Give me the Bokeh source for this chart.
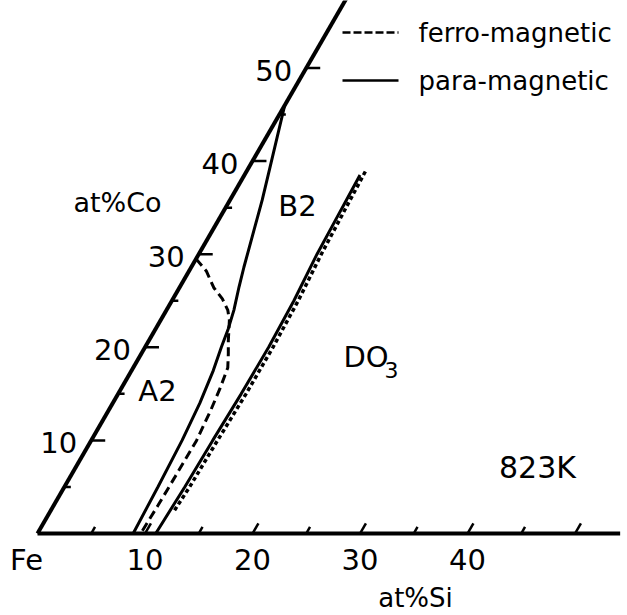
import numpy as np
from bokeh.plotting import figure
from bokeh.models import Range1d
from bokeh.core.properties import value
from bokeh.embed import file_html
from bokeh.resources import INLINE

# ---------------- data (compositions, at%) ----------------
si_ticks = [5, 10, 15, 20, 25, 30, 35, 40, 45, 50]
si_major = [10, 20, 30, 40, 50]
si_labels = ["10", "20", "30", "40"]
si_label_vals = [10, 20, 30, 40]

co_ticks = [5, 10, 15, 20, 25, 30, 35, 40, 45, 50]
co_major = [10, 20, 30, 40, 50]
co_labels = ["10", "20", "30", "40", "50"]
co_label_vals = [10, 20, 30, 40, 50]

# A2/B2 boundary, para-magnetic (solid)
para_a2b2_si = [8.9, 8.7, 8.45, 8.1, 7.6, 7.1, 6.75, 6.27, 5.5, 4.9, 4.0, 3.0, 2.0, 1.0, 0.0]
para_a2b2_co = [0.0, 5.0, 10.0, 14.0, 17.5, 20.0, 22.0, 24.0, 26.5, 28.6, 32.0, 35.8, 39.2, 42.6, 46.0]

# A2/B2 boundary, ferro-magnetic (dashed)
ferro_a2b2_si = [0.0, 1.6, 3.2, 4.6, 5.7, 6.4, 6.9, 7.4, 8.1, 8.8, 9.2, 9.5, 9.8, 9.75, 9.7, 9.6]
ferro_a2b2_co = [29.5, 28.2, 26.4, 25.2, 24.0, 22.9, 21.8, 20.7, 19.3, 17.8, 15.5, 13.2, 10.0, 6.0, 3.0, 0.0]

# B2/DO3 boundary, para-magnetic (solid)
para_b2do3_si = [11.0, 11.2, 11.3, 11.45, 11.5, 11.35, 11.0, 10.85, 10.75]
para_b2do3_co = [0.0, 5.0, 10.0, 15.0, 20.0, 25.0, 30.0, 35.0, 38.5]

# B2/DO3 boundary, ferro-magnetic (dashed)
ferro_b2do3_si = [11.5, 11.65, 11.75, 11.9, 11.9, 11.75, 11.4, 11.2, 11.05]
ferro_b2do3_co = [2.5, 5.0, 10.0, 15.0, 20.0, 25.0, 30.0, 35.0, 39.0]

# ---------------- geometry ----------------
S = 10.75            # px per at%
OX, OY = 37, 533     # Fe corner in px
W, H = 627, 615
R3 = np.sqrt(3) / 2


def X(si, co):
    return np.asarray(si, float) + 0.5 * np.asarray(co, float)


def Y(co):
    return np.asarray(co, float) * R3


def px(xp):
    return (xp - OX) / S


def py(yp):
    return (OY - yp) / S


p = figure(width=W, height=H, x_range=Range1d(px(0), px(W)), y_range=Range1d(py(H), py(0)),
           x_axis_type=None, y_axis_type=None, min_border=0, toolbar_location=None,
           output_backend="svg", outline_line_color=None, background_fill_color="white",
           border_fill_color="white")
p.grid.visible = False

BLACK = "#000000"
FONT = value("DejaVu Sans")

# axes (triangle edges)
p.line(X([0, 54.2], [0, 0]), Y([0, 0]), line_color=BLACK, line_width=4)
p.line(X([0, 0], [0, 58]), Y([0, 58]), line_color=BLACK, line_width=4)

# Si ticks (slanted, along the Co direction)
for t in si_ticks:
    L = 1.1 if t in si_major else 0.7
    p.line(X([t, t], [0, L]), Y([0, L]), line_color=BLACK, line_width=2.5)

# Co ticks (horizontal, along the Si direction)
for t in co_ticks:
    L = 1.3 if t in co_major else 0.6
    p.line(X([0, L], [t, t]), Y([t, t]), line_color=BLACK, line_width=2.5)

# phase boundaries
p.line(X(para_a2b2_si, para_a2b2_co), Y(para_a2b2_co), line_color=BLACK, line_width=3)
p.line(X(ferro_a2b2_si, ferro_a2b2_co), Y(ferro_a2b2_co), line_color=BLACK, line_width=3,
       line_dash="9 5")
p.line(X(para_b2do3_si, para_b2do3_co), Y(para_b2do3_co), line_color=BLACK, line_width=3)
p.line(X(ferro_b2do3_si, ferro_b2do3_co), Y(ferro_b2do3_co), line_color=BLACK, line_width=3.5,
       line_dash="4 3")

# tick labels
si_lab_x = X(si_label_vals, [0] * len(si_label_vals))
p.text(list(si_lab_x), [py(559)] * len(si_labels), text=si_labels, text_font=FONT,
       text_font_size=value("29px"), text_align="center", text_baseline="middle", text_color=BLACK)
p.text([px(26)], [py(559)], text=["Fe"], text_font=FONT, text_font_size=value("29px"),
       text_align="center", text_baseline="middle", text_color=BLACK)

co_lab_x = X([0] * len(co_label_vals), co_label_vals) - 14 / S
co_lab_y = Y(co_label_vals) - 2 / S
p.text(list(co_lab_x), list(co_lab_y), text=co_labels, text_font=FONT,
       text_font_size=value("29px"), text_align="right", text_baseline="middle", text_color=BLACK)

# axis titles
p.text([px(415)], [py(597)], text=["at%Si"], text_font=FONT, text_font_size=value("26px"),
       text_align="center", text_baseline="middle", text_color=BLACK)
p.text([px(117)], [py(202)], text=["at%Co"], text_font=FONT, text_font_size=value("27px"),
       text_align="center", text_baseline="middle", text_color=BLACK)

# phase labels
p.text([px(297), px(157)], [py(205), py(390)], text=["B2", "A2"], text_font=FONT,
       text_font_size=value("29px"), text_align="center", text_baseline="middle", text_color=BLACK)
p.text([px(343)], [py(356)], text=["DO"], text_font=FONT, text_font_size=value("29px"),
       text_align="left", text_baseline="middle", text_color=BLACK)
p.text([px(384)], [py(369)], text=["3"], text_font=FONT, text_font_size=value("22px"),
       text_align="left", text_baseline="middle", text_color=BLACK)
p.text([px(537)], [py(467)], text=["823K"], text_font=FONT, text_font_size=value("30px"),
       text_align="center", text_baseline="middle", text_color=BLACK)

# legend
legend_labels = ["ferro-magnetic", "para-magnetic"]
ly = [py(32), py(80)]
p.line([px(342), px(398)], [ly[0], ly[0]], line_color=BLACK, line_width=2.5, line_dash="8 3")
p.line([px(342), px(398)], [ly[1], ly[1]], line_color=BLACK, line_width=2.5)
p.text([px(418), px(418)], ly, text=legend_labels, text_font=FONT, text_font_size=value("26px"),
       text_align="left", text_baseline="middle", text_color=BLACK)

open("out.html", "w").write(file_html(p, INLINE))
